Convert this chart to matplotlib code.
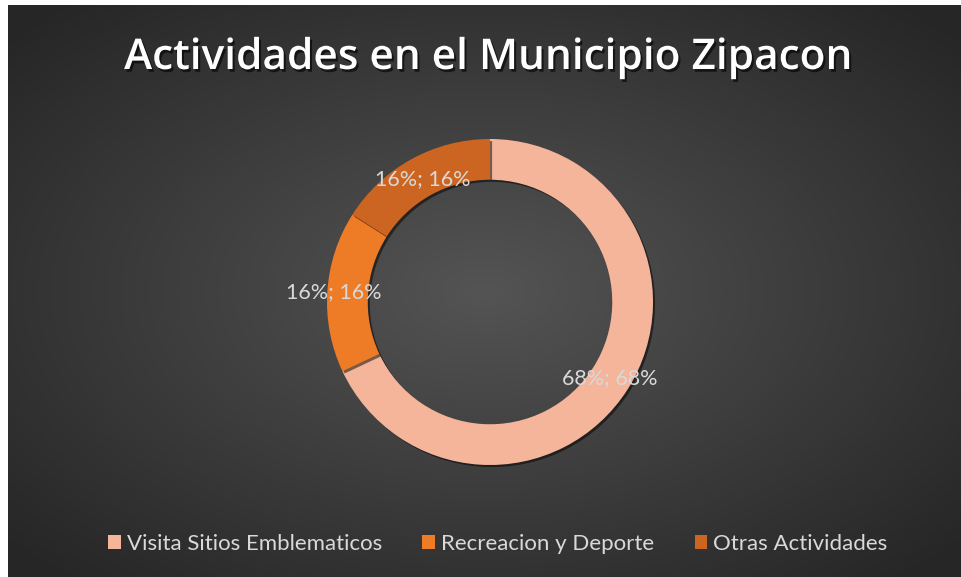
import numpy as np
import matplotlib
matplotlib.use("Agg")
import matplotlib.pyplot as plt
import matplotlib.patheffects as pe
from matplotlib.patches import Patch

title = "Actividades en el Municipio Zipacon"
categories = ["Visita Sitios Emblematicos", "Recreacion y Deporte", "Otras Actividades"]
values = [68, 16, 16]
labels = ["68%; 68%", "16%; 16%", "16%; 16%"]
colors = ["#F4B59B", "#EE7B26", "#CC6522"]
label_r = [0.87, 0.96, 0.86]

W, H = 961, 577
fig = plt.figure(figsize=(W / 100, H / 100), dpi=100, facecolor="white")

# background radial gradient
bg = fig.add_axes([8 / W, 0, (W - 8) / W, (H - 5) / H])
yy, xx = np.mgrid[-1:1:300j, -1:1:500j]
r = np.sqrt((xx * 1.0) ** 2 + (yy * 1.0) ** 2)
r = np.clip(r / 1.35, 0, 1)
c0 = np.array([0x54, 0x54, 0x54]) / 255
c1 = np.array([0x26, 0x26, 0x26]) / 255
img = c0[None, None, :] * (1 - r[..., None]) + c1[None, None, :] * r[..., None]
bg.imshow(img, aspect="auto", extent=[0, 1, 0, 1], interpolation="bilinear")
bg.set_axis_off()

# donut
cx, cy, R = 490, 302, 163
ax = fig.add_axes([(cx - R) / W, (H - cy - R) / H, 2 * R / W, 2 * R / H])
ax.set_axis_off()
wedges, _ = ax.pie(values, colors=colors, startangle=90, counterclock=False,
                   radius=1.0, wedgeprops=dict(width=0.25, linewidth=0,
                   path_effects=[pe.SimplePatchShadow(offset=(1.5, -1.5), alpha=0.5, shadow_rgbFace="black"), pe.Normal()]))
ax.set_xlim(-1, 1)
ax.set_ylim(-1, 1)
for w, lab, lr in zip(wedges, labels, label_r):
    ang = np.deg2rad((w.theta1 + w.theta2) / 2)
    ax.text(lr * np.cos(ang), lr * np.sin(ang), lab, ha="center", va="center",
            fontsize=15.5, color="#D9D9D9", family=["Lato", "DejaVu Sans"])

# title
fig.text(488 / W, 1 - 58 / H, title, ha="center", va="center", fontsize=30.5,
         fontweight="semibold", color="white", family=["Open Sans", "DejaVu Sans"],
         path_effects=[pe.withSimplePatchShadow(offset=(1.5, -2), alpha=0.6, shadow_rgbFace="black")])

# legend
handles = [Patch(facecolor=c, edgecolor="none") for c in colors]
leg = fig.legend(handles, categories, loc="center", bbox_to_anchor=(498 / W, 1 - 544 / H),
                 ncol=3, frameon=False, labelcolor="#D9D9D9",
                 handlelength=0.55, handleheight=0.55, handletextpad=0.3, columnspacing=1.8,
                 prop=dict(family=["Lato", "DejaVu Sans"], size=16))

fig.savefig("out.png", dpi=100, facecolor="white")
